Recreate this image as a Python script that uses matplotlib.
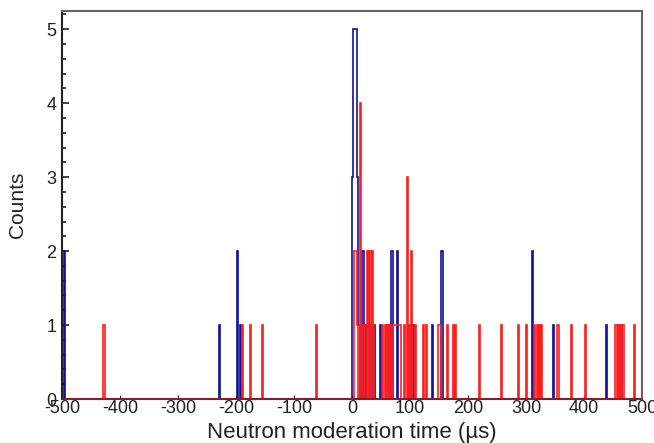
import numpy as np
import matplotlib
matplotlib.use("Agg")
import matplotlib.pyplot as plt
from matplotlib.ticker import MultipleLocator

plt.rcParams['font.family'] = ['Liberation Sans', 'DejaVu Sans']
plt.rcParams['axes.unicode_minus'] = False

# bin centres (us) and counts, 2 us bins
blue_t = [-495, -229, -197, -193, 1, 3, 5, 7, 9, 11, 13, 19, 23, 29, 33, 39, 49,
          63, 69, 79, 105, 139, 155, 311, 347, 439, 465]
blue_n = [2, 1, 2, 1, 3, 5, 5, 5, 3, 1, 1, 2, 1, 2, 1, 1, 1,
          1, 2, 2, 1, 1, 2, 2, 1, 1, 1]

red_t = [-429, -427, -189, -175, -155, -61,
         5, 7, 9, 15, 17, 21, 27, 31, 35, 37, 53, 57, 61, 65, 67, 71, 73, 75,
         77, 79, 81, 83, 91, 95, 99, 103, 109, 123, 129, 149, 151, 153, 165,
         175, 179, 219, 257, 287, 301, 315, 319, 323, 327, 355, 379, 403,
         455, 459, 463, 467, 487]
red_n = [1, 1, 1, 1, 1, 1,
         2, 2, 1, 4, 1, 1, 2, 2, 2, 1, 1, 1, 1, 1, 1, 1, 1, 1,
         1, 1, 1, 1, 1, 3, 1, 2, 1, 1, 1, 1, 1, 1, 1,
         1, 1, 1, 1, 1, 1, 1, 1, 1, 1, 1, 1, 1,
         1, 1, 1, 1, 1]

edges = np.arange(-500, 502, 2)

fig = plt.figure(figsize=(6.54, 4.43), dpi=100)
ax = fig.add_axes([0.0948, 0.0993, 0.887, 0.8765])

ax.hist(blue_t, bins=edges, weights=blue_n, histtype='step', color='#10109a', lw=1.2)
ax.hist(red_t, bins=edges, weights=red_n, histtype='step', color='#ff1e1e', lw=1.2)
ax.axhline(0, color='#8c1a28', lw=2.2, zorder=5)

ax.set_xlim(-500, 500)
ax.set_ylim(0, 5.25)
ax.xaxis.set_major_locator(MultipleLocator(100))
ax.yaxis.set_major_locator(MultipleLocator(1))
ax.yaxis.set_minor_locator(MultipleLocator(0.2))
ax.tick_params(axis='both', which='both', direction='in', labelsize=13, colors='#222222')
ax.tick_params(axis='y', which='major', length=5, width=1.2, pad=4)
ax.tick_params(axis='y', which='minor', length=3, width=1.2)
ax.tick_params(axis='x', which='major', length=3, pad=1)
ax.tick_params(top=False, right=False)

ax.spines['left'].set_color('#222222')
ax.spines['left'].set_linewidth(1.5)
ax.spines['bottom'].set_color('#8c1a28')
ax.spines['top'].set_color('#666666')
ax.spines['top'].set_linewidth(1.5)
ax.spines['right'].set_color('#666666')
ax.spines['right'].set_linewidth(1.5)

ax.set_xlabel('Neutron moderation time (\u00b5s)', fontsize=16, color='#222222', labelpad=3)
ax.set_ylabel('Counts', fontsize=15, color='#222222', labelpad=14)

fig.savefig('out.png', dpi=100)
